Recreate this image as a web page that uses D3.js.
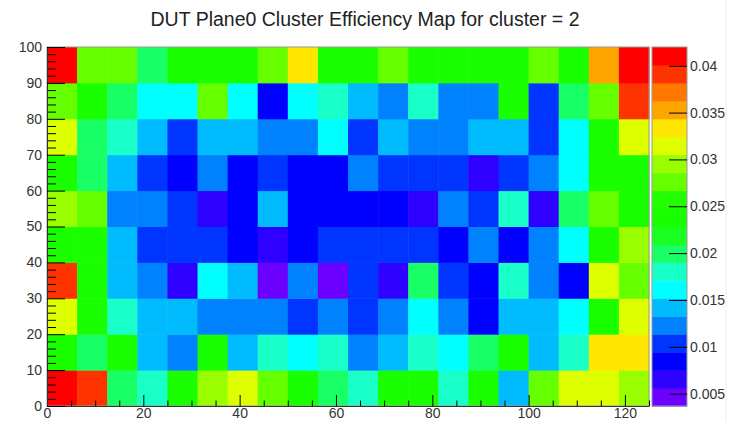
<!DOCTYPE html>
<html>
<head>
    <meta charset="utf-8">
    <script src="https://d3js.org/d3.v7.min.js"></script>
    <style>
        body, html {
            margin: 0;
            background: #fff;
            overflow: hidden;
        }
        text {
            font-family: "Liberation Sans", Arial, sans-serif;
        }
    </style>
</head>
<body>
<div id="chart"></div>
<script>
    const title = "DUT Plane0 Cluster Efficiency Map for cluster = 2";

    // histogram binning
    const xMax = 125, xBins = 20;
    const yMax = 100, yBins = 10;

    const xTicks = [0, 20, 40, 60, 80, 100, 120];
    const yTicks = [0, 10, 20, 30, 40, 50, 60, 70, 80, 90, 100];
    const zTicks = [0.005, 0.01, 0.015, 0.02, 0.025, 0.03, 0.035, 0.04];

    // efficiency per bin, first row is y = 0-10, last row y = 90-100
    const eff = [
        [0.0412,0.0391,0.0199,0.0180,0.0238,0.0295,0.0315,0.0276,0.0239,0.0200, 0.0181,0.0237,0.0238,0.0180,0.0239,0.0142,0.0276,0.0316,0.0314,0.0296],
        [0.0238,0.0199,0.0237,0.0142,0.0123,0.0238,0.0141,0.0180,0.0161,0.0181, 0.0123,0.0142,0.0180,0.0162,0.0200,0.0238,0.0142,0.0180,0.0334,0.0335],
        [0.0316,0.0238,0.0180,0.0142,0.0141,0.0123,0.0124,0.0122,0.0104,0.0123, 0.0103,0.0123,0.0161,0.0124,0.0084,0.0142,0.0143,0.0161,0.0239,0.0315],
        [0.0391,0.0238,0.0142,0.0123,0.0066,0.0161,0.0142,0.00368,0.0124,0.0047, 0.0104,0.0065,0.0199,0.0103,0.0084,0.0181,0.0123,0.0084,0.0315,0.0276],
        [0.0237,0.0239,0.0142,0.0104,0.0103,0.0105,0.0084,0.0065,0.0085,0.0104, 0.0103,0.0104,0.0105,0.0084,0.0123,0.0083,0.0122,0.0161,0.0238,0.0296],
        [0.0295,0.0276,0.0123,0.0122,0.0104,0.0066,0.0084,0.0142,0.0083,0.0085, 0.0084,0.0083,0.0065,0.0123,0.0104,0.0180,0.0064,0.0199,0.0277,0.0238],
        [0.0238,0.0200,0.0142,0.0104,0.0084,0.0123,0.0085,0.0103,0.0083,0.0084, 0.0123,0.0104,0.0105,0.0103,0.0065,0.0104,0.0124,0.0161,0.0239,0.0237],
        [0.0315,0.0199,0.0180,0.0142,0.0104,0.0143,0.0141,0.0123,0.0124,0.0161, 0.0105,0.0142,0.0123,0.0122,0.0143,0.0141,0.0104,0.0162,0.0238,0.0316],
        [0.0276,0.0238,0.0199,0.0161,0.0162,0.0275,0.0160,0.0084,0.0161,0.0180, 0.0142,0.0123,0.0181,0.0124,0.0122,0.0239,0.0104,0.0200,0.0276,0.0391],
        [0.0420,0.0276,0.0278,0.0199,0.0238,0.0240,0.0236,0.0277,0.0334,0.0239, 0.0237,0.0275,0.0241,0.0238,0.0236,0.0240,0.0277,0.0238,0.0353,0.0411]
    ];

    // 20 colour levels, violet -> red
    const palette = ["#6c00ff","#2e00ff","#0000ff","#0034ff","#0082ff","#00bcff","#00ffff","#19ffc8",
                     "#19ff66","#19ff22","#19ff00","#22ff00","#66ff00","#99ff00","#ddff00","#ffe600",
                     "#ffa500","#ff7700","#ff3300","#ff0000"];

    const width = 740, height = 422;
    const padLeft = 47, padRight = 649, padTop = 47, padBottom = 406;
    const barX0 = 652, barX1 = 687;

    const svg = d3.select("#chart").append("svg")
        .attr("width", width)
        .attr("height", height);

    const x = d3.scaleLinear().domain([0, xMax]).range([padLeft, padRight]);
    const y = d3.scaleLinear().domain([0, yMax]).range([padBottom, padTop]);

    const allVals = eff.flat();
    const zExtent = d3.extent(allVals);
    const color = d3.scaleQuantize().domain(zExtent).range(palette);
    const z = d3.scaleLinear().domain(zExtent).range([padBottom, padTop]);

    const cells = [];
    eff.forEach((row, j) => row.forEach((v, i) => cells.push({i: i, j: j, v: v})));

    const dx = xMax / xBins, dy = yMax / yBins;

    svg.append("g").selectAll("rect")
        .data(cells)
        .join("rect")
        .attr("x", d => x(d.i * dx))
        .attr("y", d => y((d.j + 1) * dy))
        .attr("width", d => x((d.i + 1) * dx) - x(d.i * dx) + 0.5)
        .attr("height", d => y(d.j * dy) - y((d.j + 1) * dy) + 0.5)
        .attr("fill", d => color(d.v));

    // frame
    svg.append("rect")
        .attr("x", padLeft).attr("y", padTop)
        .attr("width", padRight - padLeft).attr("height", padBottom - padTop)
        .attr("fill", "none")
        .attr("stroke", "#999");

    // minor ticks
    const xMinor = d3.range(0, xMax + 0.01, 5).filter(v => v % 20 !== 0);
    svg.append("g")
        .attr("transform", `translate(0,${padBottom})`)
        .call(d3.axisBottom(x).tickValues(xMinor).tickSize(-5.5).tickFormat(""))
        .call(g => g.select(".domain").remove());
    const yMinor = d3.range(0, yMax + 0.01, 2).filter(v => v % 10 !== 0);
    svg.append("g")
        .attr("transform", `translate(${padLeft},0)`)
        .call(d3.axisLeft(y).tickValues(yMinor).tickSize(-9).tickFormat(""))
        .call(g => g.select(".domain").remove());

    // major axes
    const xAxis = svg.append("g")
        .attr("transform", `translate(0,${padBottom})`)
        .call(d3.axisBottom(x).tickValues(xTicks).tickSize(-11).tickSizeOuter(0).tickPadding(3));
    const yAxis = svg.append("g")
        .attr("transform", `translate(${padLeft},0)`)
        .call(d3.axisLeft(y).tickValues(yTicks).tickSize(-18).tickSizeOuter(0).tickPadding(5));

    [xAxis, yAxis].forEach(g => {
        g.select(".domain").attr("stroke", "#333");
        g.selectAll("text")
            .attr("font-family", "Liberation Sans, Arial, sans-serif")
            .attr("font-size", 14)
            .attr("fill", "#333");
    });
    xAxis.selectAll("text").attr("dy", "0.62em");

    // colour bar
    const edges = [zExtent[0]].concat(color.thresholds(), [zExtent[1]]);
    svg.append("g").selectAll("rect")
        .data(palette)
        .join("rect")
        .attr("x", barX0)
        .attr("width", barX1 - barX0)
        .attr("y", (c, k) => z(edges[k + 1]))
        .attr("height", (c, k) => z(edges[k]) - z(edges[k + 1]) + 0.5)
        .attr("fill", c => c);

    svg.append("rect")
        .attr("x", barX0).attr("y", padTop)
        .attr("width", barX1 - barX0).attr("height", padBottom - padTop)
        .attr("fill", "none")
        .attr("stroke", "#999");

    const zAxis = svg.append("g")
        .attr("transform", `translate(${barX1},0)`)
        .call(d3.axisRight(z).tickValues(zTicks).tickSize(-18).tickSizeOuter(0).tickPadding(3).tickFormat(d3.format("")));
    zAxis.select(".domain").remove();
    zAxis.selectAll("text")
        .attr("font-family", "Liberation Sans, Arial, sans-serif")
        .attr("font-size", 14)
        .attr("fill", "#333");

    // canvas edge
    svg.append("line")
        .attr("x1", 726).attr("x2", 726)
        .attr("y1", 0).attr("y2", height)
        .attr("stroke", "#eee");

    svg.append("text")
        .attr("x", 365)
        .attr("y", 26)
        .attr("text-anchor", "middle")
        .attr("font-size", 19.5)
        .attr("fill", "#222")
        .text(title);
</script>
</body>
</html>
